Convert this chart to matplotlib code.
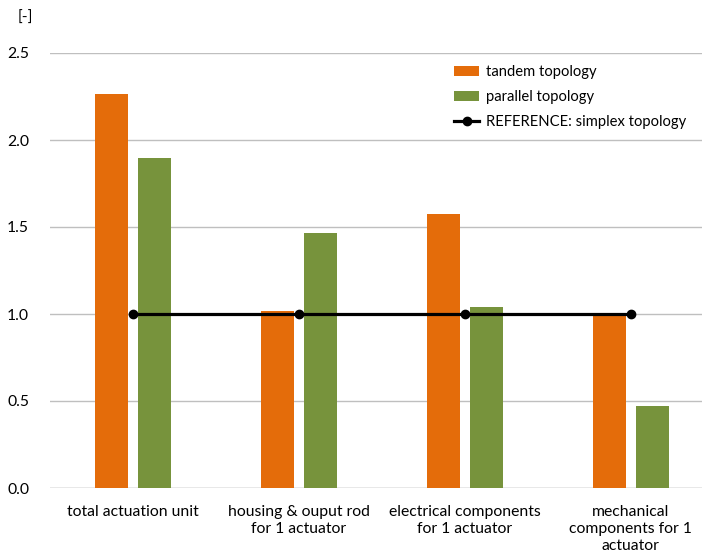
import matplotlib.pyplot as plt
import numpy as np

plt.rcParams['font.family'] = ['Lato', 'DejaVu Sans']

categories = ["total actuation unit", "housing & ouput rod\nfor 1 actuator",
              "electrical components\nfor 1 actuator", "mechanical\ncomponents for 1\nactuator"]
tandem = [2.265, 1.02, 1.575, 1.0]
parallel = [1.897, 1.465, 1.04, 0.47]
reference = [1.0, 1.0, 1.0, 1.0]

orange = "#E46C0A"
green = "#77933C"
fs = 11.3

fig = plt.figure(figsize=(7.02, 5.6), dpi=100)
ax = fig.add_axes([50 / 702, 72 / 560, 652 / 702, 435 / 560])

x = np.arange(len(categories))
b1 = ax.bar(x - 0.13, tandem, width=0.2, color=orange, label="tandem topology", zorder=2)
b2 = ax.bar(x + 0.13, parallel, width=0.2, color=green, label="parallel topology", zorder=2)
ln, = ax.plot(x, reference, color="black", lw=2.3, marker="o", ms=6,
              label="REFERENCE: simplex topology", zorder=3)

ax.set_xlim(-0.5, 3.43)
ax.set_ylim(0, 2.5)
ax.set_yticks([0, 0.5, 1.0, 1.5, 2.0, 2.5])
ax.set_yticklabels(["0.0", "0.5", "1.0", "1.5", "2.0", "2.5"])
ax.yaxis.grid(True, color="#bfbfbf", lw=1, zorder=0)
ax.set_axisbelow(True)
for s in ax.spines.values():
    s.set_visible(False)
ax.axhline(0, color="#bfbfbf", lw=1, zorder=1)
ax.tick_params(axis="both", length=0, labelsize=fs, colors="#000000")
ax.tick_params(axis="y", pad=15)
ax.set_xticks(x)
ax.set_xticklabels(categories, va="top", linespacing=1.3)
ax.tick_params(axis="x", pad=12)

fig.text(25 / 702, 1 - 18 / 560, "[-]", fontsize=fs, ha="center", va="center")

ax.legend([b1, b2, ln], [b1.get_label(), b2.get_label(), ln.get_label()],
          loc="upper left", bbox_to_anchor=(404 / 652, 1 - 12 / 435), frameon=False,
          borderpad=0, borderaxespad=0,
          fontsize=10.6, handlelength=1.7, handletextpad=0.5, labelspacing=0.75)

fig.savefig("out.png", dpi=100)
